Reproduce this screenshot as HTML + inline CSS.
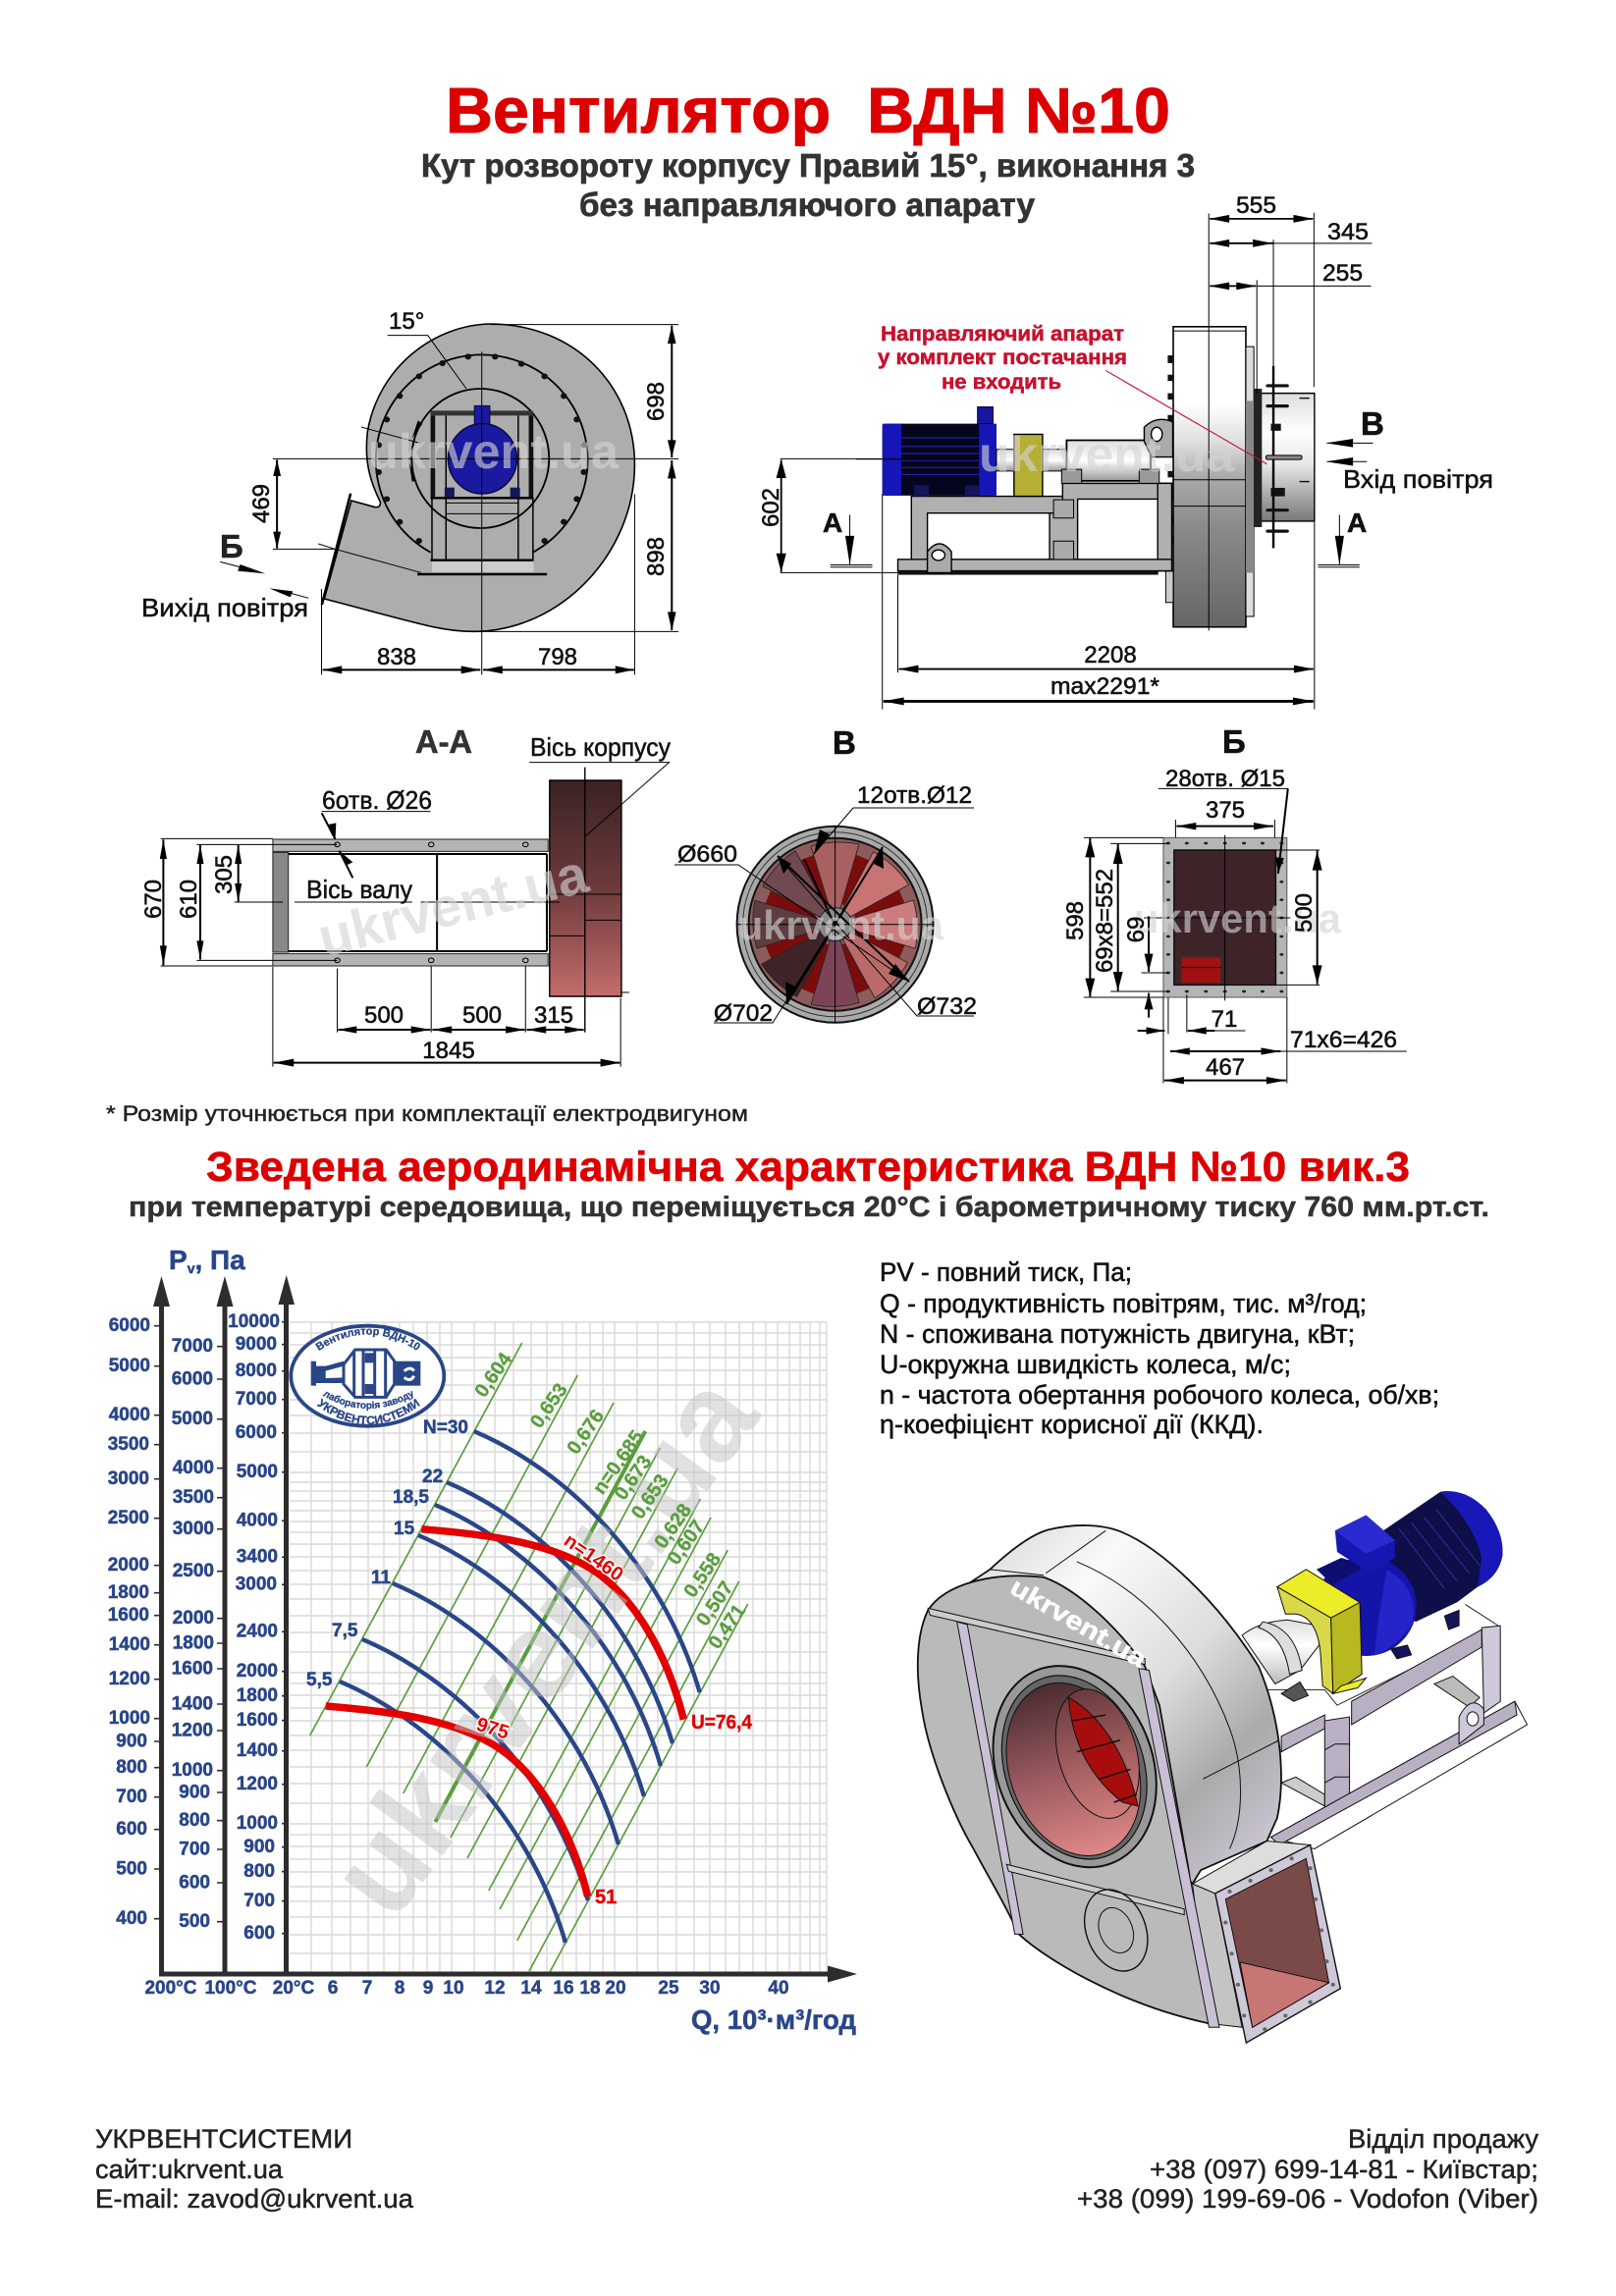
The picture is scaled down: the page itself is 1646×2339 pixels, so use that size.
<!DOCTYPE html>
<html><head><meta charset="utf-8"><title>Вентилятор ВДН №10</title>
<style>
html,body{margin:0;padding:0;background:#fff}
svg{display:block}
svg *{vector-effect:non-scaling-stroke}
text{font-family:"Liberation Sans","Noto Sans CJK SC",sans-serif}
.d{font-size:24px;fill:#111;stroke:#111;stroke-width:.55}
.dm{text-anchor:middle}
.b{font-weight:bold}
.l{font-size:26px;fill:#111;stroke:#111;stroke-width:.5}
.wm{font-weight:bold;fill:#d4d4d4;opacity:.62}
.ax{font-size:19px;font-weight:bold;fill:#2a4689;text-anchor:end;stroke:#2a4689;stroke-width:.5}
.xl{font-size:19px;font-weight:bold;fill:#2a4689;text-anchor:middle;stroke:#2a4689;stroke-width:.5}
.n{font-size:19px;font-weight:bold;fill:#2a4689;stroke:#2a4689;stroke-width:.5}
.g{font-size:20px;font-weight:bold;fill:#5a9e3e;text-anchor:middle;stroke:#5a9e3e;stroke-width:.3}
.r{font-size:20px;font-weight:bold;fill:#e20000}
.ln{fill:none;stroke:#000;stroke-width:1}
.th{fill:none;stroke:#000;stroke-width:2}
.ah{fill:#000;stroke:none}
.bl{fill:none;stroke:#2a4689;stroke-width:4.4}
.rd{fill:none;stroke:#e20000;stroke-width:7.5}
.gr{fill:none;stroke:#5a9e3e;stroke-width:1.7}
</style></head><body>
<svg xmlns="http://www.w3.org/2000/svg" width="1646" height="2339" viewBox="0 0 1646 2339">
<defs>
<linearGradient id="hg" x1="0" y1="0" x2="0" y2="1"><stop offset="0" stop-color="#fff"/><stop offset=".26" stop-color="#fff"/><stop offset=".39" stop-color="#ddd"/><stop offset=".5" stop-color="#aaa"/><stop offset=".67" stop-color="#8a8a8a"/><stop offset="1" stop-color="#666"/></linearGradient>
<linearGradient id="ig" x1="0" y1="0" x2="0" y2="1"><stop offset="0" stop-color="#ddd"/><stop offset=".3" stop-color="#fff"/><stop offset=".55" stop-color="#e8e8e8"/><stop offset="1" stop-color="#777"/></linearGradient>
<linearGradient id="sg" x1="0" y1="0" x2="0" y2="1"><stop offset="0" stop-color="#ddd"/><stop offset=".5" stop-color="#fff"/><stop offset="1" stop-color="#999"/></linearGradient>
<linearGradient id="rg" x1="0" y1="0" x2="0" y2="1"><stop offset="0" stop-color="#3a2222"/><stop offset=".5" stop-color="#6e3a3c"/><stop offset="1" stop-color="#c46c6c"/></linearGradient>
<linearGradient id="rim" x1="0" y1="0" x2="1" y2="1"><stop offset="0" stop-color="#ccc"/><stop offset=".3" stop-color="#fafafa"/><stop offset=".55" stop-color="#ddd"/><stop offset=".75" stop-color="#aaa"/><stop offset="1" stop-color="#d8d0e4"/></linearGradient>
<linearGradient id="inl" x1="0" y1="0" x2="0" y2="1"><stop offset="0" stop-color="#4a2c30"/><stop offset=".5" stop-color="#9a5a60"/><stop offset="1" stop-color="#e08888"/></linearGradient>
<linearGradient id="inl2" x1="0" y1="0" x2="0" y2="1"><stop offset="0" stop-color="#6a3a3e"/><stop offset="1" stop-color="#d07c7c"/></linearGradient>
<linearGradient id="shf" x1="0" y1="0" x2="0" y2="1"><stop offset="0" stop-color="#ddd"/><stop offset=".4" stop-color="#fff"/><stop offset="1" stop-color="#bbb"/></linearGradient>
</defs>
<rect width="1646" height="2339" fill="#fff"/>

<!-- Titles -->
<text x="454" y="135" font-size="65" font-weight="bold" fill="#dc0000" stroke="#dc0000" stroke-width="1" textLength="738" lengthAdjust="spacingAndGlyphs" xml:space="preserve">Вентилятор  ВДН №10</text>
<text x="429" y="180" font-size="33" font-weight="bold" fill="#333" stroke="#333" stroke-width=".7" textLength="788" lengthAdjust="spacingAndGlyphs">Кут розвороту корпусу Правий 15°, виконання 3</text>
<text x="590" y="220" font-size="33" font-weight="bold" fill="#333" stroke="#333" stroke-width=".7" textLength="464" lengthAdjust="spacingAndGlyphs">без направляючого апарату</text>

<!-- Front view (zoom1 coords) -->
<g transform="translate(200,280) scale(.35714,.33333)">
<path d="M442 690L510 710Q525 712 525 695C490 620 480 560 488 480C520 280 680 152 840 150C1080 152 1250 340 1250 580C1250 850 1040 1090 790 1090C700 1090 650 1070 365 990Z" fill="#adadad" stroke="#000" stroke-width="1.6"/>
<path d="M440 668L358 1008" class="th" style="stroke-width:2.6"/>
<path d="M668 848A302 322 0 1 1 960 848" class="th" style="stroke-width:1.8"/>
<g fill="#111"><circle cx="775" cy="250" r="9"/><circle cx="852" cy="250" r="9"/><circle cx="927" cy="272" r="9"/><circle cx="993" cy="310" r="9"/><circle cx="1048" cy="370" r="9"/><circle cx="1085" cy="442" r="9"/><circle cx="1105" cy="520" r="9"/><circle cx="1105" cy="603" r="9"/><circle cx="1085" cy="685" r="9"/><circle cx="1048" cy="755" r="9"/><circle cx="993" cy="813" r="9"/><circle cx="702" cy="270" r="9"/><circle cx="635" cy="310" r="9"/><circle cx="580" cy="370" r="9"/><circle cx="543" cy="442" r="9"/><circle cx="520" cy="520" r="9"/><circle cx="520" cy="603" r="9"/><circle cx="543" cy="685" r="9"/><circle cx="580" cy="755" r="9"/><circle cx="635" cy="813" r="9"/></g>
<ellipse cx="810" cy="561" rx="196" ry="213" fill="none" stroke="#000" stroke-width="1.8"/>
<rect x="672" y="875" width="290" height="33" fill="#ccc"/>
<path d="M630 915H1000" class="th" style="stroke-width:2.6"/>
<path d="M668 872H960" class="th" style="stroke-width:2.4"/>
<path d="M668 415H960V430H668Z" fill="#333"/>
<rect x="668" y="430" width="13" height="250" fill="#111"/><rect x="948" y="430" width="13" height="250" fill="#111"/>
<path d="M712 430V870M918 430V870M672 680V875M960 680V875" class="th" style="stroke-width:1.5"/>
<path d="M668 682H960" class="th" style="stroke-width:2.4"/>
<path d="M712 697H918M712 730H918" class="th" style="stroke-width:1"/>
<rect x="793" y="400" width="44" height="56" fill="#1a1aa0" stroke="#0a0a40"/>
<ellipse cx="816" cy="562" rx="98" ry="107" fill="#1a1aa0" stroke="#0a0a40" stroke-width="1.5"/>
<rect x="708" y="650" width="28" height="30" fill="#16165a"/><rect x="895" y="650" width="28" height="30" fill="#16165a"/>
<path class="ah" d="M615 500L632 445L645 455ZM607 575L628 630L615 632Z"/>
<path class="ln" d="M218 562H1375M840 152H1375M790 1090H1375M814 235V1222M218 838H400M545 185H660L770 348M470 465L640 515M348 822L395 838L640 910M357 960V1222M1250 670V1222"/>
<path class="th" d="M1356 155V558M1356 567V1086M230 565V836M360 1207H810M818 1207H1248"/>
<path class="ah" d="M1356 155L1344 210H1368ZM1356 558L1344 505H1368ZM1356 567L1344 622H1368ZM1356 1088L1344 1030H1368ZM230 565L219 615H241ZM230 836L219 785H241ZM360 1207L415 1195V1219ZM810 1207L755 1195V1219ZM818 1207L873 1195V1219ZM1248 1207L1195 1195V1219Z"/>
<path class="ln" d="M68 877L150 900M320 988L245 966"/>
<path class="ah" d="M197 913L125 885L118 905ZM208 958L275 967L268 985Z"/>
</g>
<text class="wm" x="375" y="477" font-size="50" textLength="255" lengthAdjust="spacingAndGlyphs">ukrvent.ua</text>
<text class="d" x="396" y="335" font-size="24">15°</text>
<text class="d dm" x="404" y="677">838</text><text class="d dm" x="568" y="677">798</text>
<text class="d dm" transform="translate(676,409) rotate(-90)">698</text>
<text class="d dm" transform="translate(676,567) rotate(-90)">898</text>
<text class="d dm" transform="translate(274,513) rotate(-90)">469</text>
<text x="224" y="568" font-size="33" font-weight="bold" fill="#222" stroke="#222" stroke-width=".6">Б</text>
<text class="l" x="144" y="628" textLength="170" lengthAdjust="spacingAndGlyphs">Вихід повітря</text>

<!-- Side view (zoom2 coords) -->
<g transform="translate(760,180) scale(.51,.357)">
<rect x="853" y="428" width="145" height="857" fill="url(#hg)" stroke="#000" stroke-width="1.6"/>
<path d="M853 428H998M853 440H998M853 865H998M853 940H998" class="ln"/>
<rect x="998" y="485" width="16" height="770" fill="#ddd" stroke="#000"/>
<rect x="998" y="640" width="16" height="490" fill="#888"/>
<rect x="1020" y="618" width="115" height="365" fill="url(#ig)" stroke="#000" stroke-width="1.4"/>
<rect x="1014" y="605" width="16" height="395" fill="#222"/>
<path d="M1053 540V1060" class="th" style="stroke-width:2.4"/>
<g fill="#111"><rect x="1038" y="592" width="46" height="9" rx="4"/><rect x="1038" y="650" width="46" height="9" rx="4"/><rect x="1038" y="795" width="72" height="12" rx="4" fill="#888" stroke="#000"/><rect x="1038" y="947" width="46" height="9" rx="4"/><rect x="1038" y="1007" width="46" height="9" rx="4"/><rect x="1048" y="705" width="20" height="20"/><rect x="1048" y="888" width="28" height="24"/><rect x="1105" y="630" width="20" height="4"/><rect x="1105" y="868" width="20" height="4"/></g>
<g fill="#111"><rect x="842" y="510" width="11" height="22"/><rect x="842" y="565" width="11" height="18"/><rect x="842" y="618" width="11" height="18"/><rect x="842" y="680" width="11" height="20"/><rect x="842" y="840" width="11" height="18"/><rect x="842" y="905" width="11" height="20"/><rect x="842" y="970" width="11" height="24"/><rect x="842" y="1025" width="11" height="22"/></g>
<rect x="838" y="1125" width="15" height="90" fill="#ccc" stroke="#000"/>
<rect x="303" y="1092" width="547" height="33" fill="#b0b0b0" stroke="#000" stroke-width="1.4"/>
<rect x="303" y="1125" width="520" height="11" fill="#111"/>
<path d="M330 912H655V960H362V1092H330Z" fill="#b0b0b0" stroke="#000" stroke-width="1.4"/>
<path d="M632 875H850V920H662V1092H606V960H632Z" fill="#b0b0b0" stroke="#000" stroke-width="1.4"/>
<path d="M822 875V1092H850V875Z" fill="#b0b0b0" stroke="#000" stroke-width="1.4"/>
<rect x="614" y="922" width="40" height="52" fill="#aaa" stroke="#000"/><rect x="614" y="1040" width="40" height="52" fill="#aaa" stroke="#000"/>
<path d="M362 1130V1070Q386 1025 410 1070V1130Z" fill="#aaa" stroke="#000" stroke-width="1.4"/><ellipse cx="384" cy="1080" rx="13" ry="15" fill="#fff" stroke="#000" stroke-width="1.4"/>
<rect x="272" y="705" width="228" height="205" rx="8" fill="#05051e"/>
<rect x="272" y="705" width="38" height="205" fill="#1616b8"/>
<rect x="465" y="705" width="35" height="205" fill="#1616b8"/>
<rect x="462" y="657" width="31" height="48" fill="#1616a0" stroke="#08082c"/>
<path d="M310 745H465M310 770H465M310 790H465M310 810H465M310 830H465M310 850H465" stroke="#2020a0" stroke-width="1.2" fill="none"/>
<rect x="335" y="880" width="30" height="32" fill="#14145a"/><rect x="437" y="880" width="30" height="32" fill="#14145a"/>
<rect x="500" y="778" width="140" height="62" fill="url(#sg)" stroke="#000"/>
<rect x="535" y="735" width="57" height="177" fill="#b5b035" stroke="#000" stroke-width="1.4"/>
<rect x="640" y="752" width="168" height="116" fill="url(#sg)" stroke="#000" stroke-width="1.8"/>
<rect x="630" y="835" width="40" height="40" fill="#999" stroke="#000"/><rect x="785" y="835" width="40" height="40" fill="#999" stroke="#000"/>
<path d="M795 755V715Q820 680 852 700V800H810Z" fill="#aaa" stroke="#000" stroke-width="1.4"/><ellipse cx="820" cy="735" rx="11" ry="20" fill="#fff" stroke="#000" stroke-width="1.4"/>
<path class="ln" d="M924 105V1295M1134 103V600M1053 180V540M1020 295V620M1135 985V1520M303 1135V1415M272 905V1520M68 805H270M220 806H460M68 1130H303M1053 190H1250M1020 312H1248"/>
<path class="th" d="M926 120H1132M926 190H1052M926 312H1018M70 808V1128M305 1405H1133" style="stroke-width:1.8"/>
<path class="th" d="M274 1497H1133" style="stroke-width:2.8"/>
<path class="ah" d="M925 120L965 109V131ZM1133 120L1093 109V131ZM925 190L965 179V201ZM1052 190L1012 179V201ZM925 312L965 301V323ZM1019 312L979 301V323ZM70 806L60 860H80ZM70 1128L60 1075H80ZM304 1405L344 1394V1416ZM1134 1405L1094 1394V1416ZM273 1497L315 1486V1508ZM1134 1497L1092 1486V1508Z"/>
<path stroke="#c8102e" stroke-width="1.1" fill="none" d="M718 553L1040 820"/>
<path class="ln" d="M207 965V1108M168 1108H252M168 1114H252M1185 965V1108M1142 1108H1225M1142 1114H1225M1160 760H1252M1160 813H1240" />
<path class="ah" d="M207 1108L198 1025H216ZM1185 1108L1176 1025H1194ZM1158 760L1212 748V772ZM1158 813L1212 801V825Z"/>
</g>
<text class="wm" x="997" y="480" font-size="50" textLength="260" lengthAdjust="spacingAndGlyphs">ukrvent.ua</text>
<text class="d" x="1259" y="217" textLength="41" lengthAdjust="spacingAndGlyphs">555</text>
<text class="d" x="1352" y="244" textLength="42" lengthAdjust="spacingAndGlyphs">345</text>
<text class="d" x="1347" y="286" textLength="41" lengthAdjust="spacingAndGlyphs">255</text>
<g font-size="21" font-weight="bold" fill="#c8102e" stroke="#c8102e" stroke-width=".5">
<text x="897" y="347" textLength="248" lengthAdjust="spacingAndGlyphs">Направляючий апарат</text>
<text x="894" y="371" textLength="254" lengthAdjust="spacingAndGlyphs">у комплект постачання</text>
<text x="959" y="396" textLength="122" lengthAdjust="spacingAndGlyphs">не входить</text>
</g>
<text x="1386" y="443" font-size="33" font-weight="bold" fill="#111" stroke="#111" stroke-width=".6">В</text>
<text class="l" x="1368" y="497" textLength="153" lengthAdjust="spacingAndGlyphs">Вхід повітря</text>
<text x="838" y="542" font-size="28" font-weight="bold" fill="#111" stroke="#111" stroke-width=".6">А</text>
<text x="1372" y="542" font-size="28" font-weight="bold" fill="#111" stroke="#111" stroke-width=".6">А</text>
<text class="d dm" transform="translate(793,517) rotate(-90)">602</text>
<text class="d dm" x="1131" y="675">2208</text>
<text class="d" x="1070" y="707" textLength="111" lengthAdjust="spacingAndGlyphs">max2291*</text>

<!-- Section A-A (zoom3 coords) -->
<g transform="translate(130,730) scale(.3954,.33333)">
<rect x="1087" y="195" width="185" height="660" fill="url(#rg)" stroke="#000" stroke-width="1.4"/>
<path class="ln" d="M1087 543H1272M1180 622H1270M1087 670H1178M1270 843H1292"/>
<path class="th" style="stroke-width:1.4" d="M1178 155V965"/>
<rect x="374" y="375" width="709" height="37" fill="#b4b4b4" stroke="#222"/>
<rect x="374" y="725" width="709" height="37" fill="#b4b4b4" stroke="#222"/>
<rect x="374" y="415" width="40" height="305" fill="#888" stroke="#222"/>
<path class="th" style="stroke-width:2" d="M414 420H1080M414 717H1080M797 420V717M1080 420V717"/>
<g fill="none" stroke="#000"><circle cx="540" cy="391" r="7"/><circle cx="782" cy="391" r="7"/><circle cx="1025" cy="391" r="7"/><circle cx="540" cy="745" r="7"/><circle cx="782" cy="745" r="7"/><circle cx="1025" cy="745" r="7"/></g>
<path class="ln" d="M85 373H374M85 762H374M178 391H540M178 745H540M275 567H400M430 567H733M755 567H1113M374 765V1070M1270 860V1070M540 770V965M782 762V965M1025 762V965M1035 140H1395L1180 365M500 290H780"/>
<path class="th" d="M92 376V760M187 393V743M285 393V565M542 957H780M785 957H1023M1028 957H1175M376 1058H1268"/>
<path class="th" d="M500 295L535 375M580 493L545 410"/>
<path class="ah" d="M92 375L83 435H101ZM92 760L83 700H101ZM187 392L178 450H196ZM187 743L178 685H196ZM285 392L276 450H294ZM285 566L276 510H294ZM541 957L590 946V968ZM780 957L730 946V968ZM785 957L835 946V968ZM1024 957L974 946V968ZM1028 957L1078 946V968ZM1176 957L1126 946V968ZM376 1058L428 1046V1070ZM1270 1058L1218 1046V1070ZM535 375L517 330L537 325ZM545 410L563 455L580 445Z"/>
</g>
<text class="wm" x="330" y="975" font-size="56" transform="rotate(-14 330 975)" textLength="280" lengthAdjust="spacingAndGlyphs">ukrvent.ua</text>
<text x="423" y="767" font-size="33" font-weight="bold" fill="#333" stroke="#333" stroke-width=".6" textLength="58" lengthAdjust="spacingAndGlyphs">А-А</text>
<text class="l" x="540" y="770" textLength="143" lengthAdjust="spacingAndGlyphs">Вісь корпусу</text>
<text class="l" x="328" y="824" textLength="112" lengthAdjust="spacingAndGlyphs">6отв. Ø26</text>
<text class="l" x="312" y="915" textLength="108" lengthAdjust="spacingAndGlyphs">Вісь валу</text>
<text class="d dm" transform="translate(164,916) rotate(-90)">670</text>
<text class="d dm" transform="translate(200,916) rotate(-90)">610</text>
<text class="d dm" transform="translate(236,891) rotate(-90)">305</text>
<text class="d dm" x="391" y="1042">500</text><text class="d dm" x="491" y="1042">500</text><text class="d dm" x="564" y="1042">315</text>
<text class="d dm" x="457" y="1078">1845</text>

<!-- Section В -->
<g>
<circle cx="850.6" cy="941.7" r="100" fill="#aaa" stroke="#111" stroke-width="2"/>
<circle cx="850.6" cy="941.7" r="94" fill="none" stroke="#333"/>
<circle cx="850.6" cy="941.7" r="88" fill="#8c5c5c" stroke="#111" stroke-width="2"/>
<g fill="#7b0c0c">
<path d="M848 920L838 868H863L853 920Z" transform="rotate(22.5 850.6 941.7)"/>
<path d="M848 920L838 868H863L853 920Z" transform="rotate(67.5 850.6 941.7)"/>
<path d="M848 920L838 868H863L853 920Z" transform="rotate(112.5 850.6 941.7)"/>
<path d="M848 920L838 868H863L853 920Z" transform="rotate(157.5 850.6 941.7)"/>
<path d="M848 920L838 868H863L853 920Z" transform="rotate(202.5 850.6 941.7)"/>
<path d="M848 920L838 868H863L853 920Z" transform="rotate(247.5 850.6 941.7)"/>
<path d="M848 920L838 868H863L853 920Z" transform="rotate(292.5 850.6 941.7)"/>
<path d="M848 920L838 868H863L853 920Z" transform="rotate(337.5 850.6 941.7)"/>
</g>
<g stroke="#222" stroke-width=".8">
<path fill="#a86060" d="M845 925L826 862Q850 855 875 860L856 925Z"/>
<path fill="#c97474" d="M845 925L826 862Q850 855 875 860L856 925Z" transform="rotate(45 850.6 941.7)"/>
<path fill="#cc7c7c" d="M845 925L826 862Q850 855 875 860L856 925Z" transform="rotate(90 850.6 941.7)"/>
<path fill="#bb6a6a" d="M845 925L826 862Q850 855 875 860L856 925Z" transform="rotate(135 850.6 941.7)"/>
<path fill="#7c4456" d="M845 925L826 862Q850 855 875 860L856 925Z" transform="rotate(180 850.6 941.7)"/>
<path fill="#3e2428" d="M845 925L826 862Q850 855 875 860L856 925Z" transform="rotate(225 850.6 941.7)"/>
<path fill="#5e3c40" d="M845 925L826 862Q850 855 875 860L856 925Z" transform="rotate(270 850.6 941.7)"/>
<path fill="#704a50" d="M845 925L826 862Q850 855 875 860L856 925Z" transform="rotate(315 850.6 941.7)"/>
</g>
<circle cx="850.6" cy="941.7" r="17" fill="#8a8a8a" stroke="#222"/>
<path class="ln" d="M850.6 842V1042M751 941.7H950"/>
<path class="ln" d="M687 881H752L926 1000M727 1042H787L899 863M934 1035L992 1035M934 1035L792 872M869 823H992M869 823L829 870"/>
<path class="th" d="M792 872L926 1000M899 863L801 1023M819 875L850 942"/>
<path class="ah" d="M829 870L835 845L845 850ZM792 872L806 880L798 890ZM926 1000L912 982L905 992ZM899 863L890 880L900 885ZM801 1023L810 1005L800 1000Z"/>
</g>
<text class="wm" x="752" y="957" font-size="42" textLength="209" lengthAdjust="spacingAndGlyphs">ukrvent.ua</text>
<text x="848" y="768" font-size="33" font-weight="bold" fill="#111" stroke="#111" stroke-width=".6">В</text>
<text class="d" x="873" y="818" textLength="117" lengthAdjust="spacingAndGlyphs">12отв.Ø12</text>
<text class="d" x="690" y="878" textLength="61" lengthAdjust="spacingAndGlyphs">Ø660</text>
<text class="d" x="727" y="1040" textLength="60" lengthAdjust="spacingAndGlyphs">Ø702</text>
<text class="d" x="934" y="1033" textLength="61" lengthAdjust="spacingAndGlyphs">Ø732</text>

<!-- Section Б (zoom4 coords) -->
<g transform="translate(680,730) scale(.4975,.33333)">
<rect x="1015" y="370" width="253" height="488" fill="#b5b5b5" stroke="#555"/>
<rect x="1037" y="408" width="208" height="412" fill="#3e2428" stroke="#111" stroke-width="1.6"/>
<rect x="1052" y="735" width="81" height="80" fill="#a01010" stroke="#333"/>
<path class="ln" d="M1052 767H1133"/>
<g fill="#222"><circle cx="1025" cy="387" r="4"/><circle cx="1063" cy="387" r="4"/><circle cx="1102" cy="387" r="4"/><circle cx="1141" cy="387" r="4"/><circle cx="1180" cy="387" r="4"/><circle cx="1218" cy="387" r="4"/><circle cx="1257" cy="387" r="4"/><circle cx="1025" cy="840" r="4"/><circle cx="1063" cy="840" r="4"/><circle cx="1102" cy="840" r="4"/><circle cx="1141" cy="840" r="4"/><circle cx="1180" cy="840" r="4"/><circle cx="1218" cy="840" r="4"/><circle cx="1257" cy="840" r="4"/><circle cx="1025" cy="447" r="4"/><circle cx="1025" cy="505" r="4"/><circle cx="1025" cy="560" r="4"/><circle cx="1025" cy="615" r="4"/><circle cx="1025" cy="672" r="4"/><circle cx="1025" cy="727" r="4"/><circle cx="1025" cy="783" r="4"/><circle cx="1257" cy="447" r="4"/><circle cx="1257" cy="505" r="4"/><circle cx="1257" cy="560" r="4"/><circle cx="1257" cy="615" r="4"/><circle cx="1257" cy="672" r="4"/><circle cx="1257" cy="727" r="4"/><circle cx="1257" cy="783" r="4"/></g>
<path class="ln" d="M1141 362V868M975 615H1275M1040 315V370M1243 315V370M852 370H1015M852 858H1015M907 388H1025M907 840H1025M970 783H1025M1245 408H1335M1245 820H1335M1025 858V970M1063 850V965M1015 858V1120M1268 858V1120M1005 220H1270M1250 1023H1513M1065 960H1183"/>
<path class="th" d="M1042 335H1240M865 372V856M922 390V838M985 610V780M985 845V920M1330 410V818M962 960H1018M1065 960H1120M1029 1023H1255M1017 1112H1266M1270 220L1250 480"/>
<path class="ah" d="M1042 335L1082 324V346ZM1240 335L1200 324V346ZM865 372L855 430H875ZM865 856L855 800H875ZM922 390L912 450H932ZM922 838L912 780H932ZM985 780L976 725H994ZM985 845L976 895H994ZM1330 410L1320 470H1340ZM1330 818L1320 760H1340ZM1018 960L980 949V971ZM1065 960L1103 949V971ZM1029 1023L1069 1012V1034ZM1255 1023L1215 1012V1034ZM1017 1112L1057 1101V1123ZM1266 1112L1226 1101V1123ZM1250 480L1245 430L1262 432Z"/>
</g>
<text class="wm" x="1155" y="950" font-size="42" textLength="211" lengthAdjust="spacingAndGlyphs">ukrvent.ua</text>
<text x="1245" y="767" font-size="33" font-weight="bold" fill="#111" stroke="#111" stroke-width=".6">Б</text>
<text class="d" x="1187" y="801" textLength="122" lengthAdjust="spacingAndGlyphs">28отв. Ø15</text>
<text class="d dm" x="1248" y="833">375</text>
<text class="d dm" transform="translate(1103,938) rotate(-90)">598</text>
<text class="d dm" transform="translate(1133,938) rotate(-90)">69x8=552</text>
<text class="d dm" transform="translate(1165,947) rotate(-90)">69</text>
<text class="d dm" transform="translate(1336,930) rotate(-90)">500</text>
<text class="d dm" x="1247" y="1046">71</text>
<text class="d" x="1314" y="1067" textLength="109" lengthAdjust="spacingAndGlyphs">71x6=426</text>
<text class="d dm" x="1248" y="1095">467</text>

<text x="108" y="1142" font-size="22" fill="#222" stroke="#222" stroke-width=".45" textLength="654" lengthAdjust="spacingAndGlyphs">* Розмір уточнюється при комплектації електродвигуном</text>
<text x="210" y="1203" font-size="43" font-weight="bold" fill="#dc0000" stroke="#dc0000" stroke-width=".6" textLength="1226" lengthAdjust="spacingAndGlyphs">Зведена аеродинамічна характеристика ВДН №10 вик.3</text>
<text x="131" y="1239" font-size="29" font-weight="bold" fill="#333" stroke="#333" stroke-width=".5" textLength="1386" lengthAdjust="spacingAndGlyphs">при температурі середовища, що переміщується 20°С і барометричному тиску 760 мм.рт.ст.</text>

<!-- Legend -->
<g font-size="27" fill="#111" stroke="#111" stroke-width=".55">
<text x="896" y="1305" textLength="257" lengthAdjust="spacingAndGlyphs">PV - повний тиск, Па;</text>
<text x="896" y="1337" textLength="496" lengthAdjust="spacingAndGlyphs">Q - продуктивність повітрям, тис. м³/год;</text>
<text x="896" y="1368" textLength="484" lengthAdjust="spacingAndGlyphs">N - споживана потужність двигуна, кВт;</text>
<text x="896" y="1399" textLength="419" lengthAdjust="spacingAndGlyphs">U-окружна швидкість колеса, м/с;</text>
<text x="896" y="1430" textLength="570" lengthAdjust="spacingAndGlyphs">n - частота обертання робочого колеса, об/хв;</text>
<text x="896" y="1460" textLength="391" lengthAdjust="spacingAndGlyphs">η-коефіцієнт корисної дії (ККД).</text>
</g>

<!-- Chart grid -->
<path fill="none" stroke="#d9d9d9" stroke-width="1.4" d="M317 1347V2009M338 1347V2009M357 1347V2009M375 1347V2009M391 1347V2009M407 1347V2009M421 1347V2009M435 1347V2009M448 1347V2009M460 1347V2009M483 1347V2009M504 1347V2009M523 1347V2009M541 1347V2009M557 1347V2009M573 1347V2009M587 1347V2009M601 1347V2009M614 1347V2009M626 1347V2009M649 1347V2009M670 1347V2009M689 1347V2009M707 1347V2009M723 1347V2009M739 1347V2009M753 1347V2009M767 1347V2009M780 1347V2009M792 1347V2009M804 1347V2009M815 1347V2009M825 1347V2009M835 1347V2009M842 1347V2009
M295 1347H842M295 1358H842M295 1370H842M295 1383H842M295 1396H842M295 1411H842M295 1426H842M295 1442H842M295 1460H842M295 1479H842M295 1500H842M295 1510H842M295 1519H842M295 1529H842M295 1539H842M295 1550H842M295 1561H842M295 1573H842M295 1586H842M295 1600H842M295 1614H842M295 1629H842M295 1646H842M295 1663H842M295 1683H842M295 1704H842M295 1715H842M295 1727H842M295 1740H842M295 1753H842M295 1768H842M295 1783H842M295 1800H842M295 1817H842M295 1837H842M295 1858H842M295 1869H842M295 1881H842M295 1894H842M295 1907H842M295 1922H842M295 1937H842M295 1953H842M295 1971H842M295 1990H842"/>

<!-- Green lines -->
<g class="gr">
<path d="M531.7 1368L315.7 1768M588.3 1401L373.3 1800M625 1429L410.7 1827M672.3 1475L459 1872M690 1496L476 1893M713.3 1527L497.7 1926M724 1546L509 1945M741.3 1579L526.7 1977M752.7 1611L539 2008M761.7 1634L560 2009"/>
<path d="M657.3 1458L443.3 1856" style="stroke-width:4"/>
</g>
<!-- Blue curves -->
<g class="bl">
<path d="M0 0C90 38 190 130 230 266" transform="translate(482.7,1458)"/>
<path d="M0 0C90 38 190 130 230 266" transform="translate(455,1510)"/>
<path d="M0 0C90 38 190 130 230 266" transform="translate(443,1533)"/>
<path d="M0 0C90 38 190 130 230 266" transform="translate(426,1564)"/>
<path d="M0 0C90 38 190 130 230 266" transform="translate(400,1613)"/>
<path d="M0 0C90 38 190 130 230 266" transform="translate(369,1670)"/>
<path d="M0 0C90 38 190 130 230 266" transform="translate(346,1713)"/>
</g>
<!-- Red curves -->
<g class="rd">
<path d="M0 0C60 5 125 12 170.7 39.3C215 66 250 125 267 194" transform="translate(429.3,1557.7)"/>
<path d="M0 0C60 5 125 12 170.7 39.3C215 66 250 125 267 194" transform="translate(331.7,1738)"/>
</g>
<!-- Watermark over chart -->
<text x="400" y="1960" font-size="127" font-weight="bold" fill="#c4c4c4" opacity=".5" transform="rotate(-54 400 1960)" textLength="640" lengthAdjust="spacingAndGlyphs">ukrvent.ua</text>

<!-- Axes -->
<g fill="#2d2d2d">
<rect x="162" y="1325" width="5" height="686"/><rect x="226.5" y="1325" width="5" height="686"/><rect x="289" y="1325" width="5" height="686"/>
<rect x="162" y="2008.5" width="685" height="5"/>
<path d="M164.5 1300L156 1331H173ZM229 1300L220.5 1331H237.5ZM291.7 1299L283.5 1329H300ZM873 2011L843 2002.5V2019.5Z"/>
<path d="M157 1350.7h8M157 1391.7h8M157 1441.7h8M157 1471.7h8M157 1506.7h8M157 1546.7h8M157 1594.7h8M157 1622.7h8M157 1645.7h8M157 1675.7h8M157 1710.7h8M157 1750.7h8M157 1774h8M157 1800.7h8M157 1830.7h8M157 1863.7h8M157 1904h8M157 1954.7h8M221 1371.7h8M221 1405h8M221 1445.7h8M221 1495.7h8M221 1525.7h8M221 1557.7h8M221 1600.7h8M221 1648.7h8M221 1674h8M221 1700h8M221 1736h8M221 1763h8M221 1803.7h8M221 1826h8M221 1854.7h8M221 1884h8M221 1918h8M221 1957.7h8M287 1346.7h6M287 1369.7h6M287 1396.7h6M287 1425.7h6M287 1459.7h6M287 1499.7h6M287 1549.3h6M287 1586.3h6M287 1614.3h6M287 1662.3h6M287 1702.7h6M287 1727.7h6M287 1752.7h6M287 1783.7h6M287 1817.7h6M287 1857.7h6M287 1881.7h6M287 1906.7h6M287 1936.7h6M287 1969.7h6" stroke="#2d2d2d" stroke-width="1.6" fill="none"/>
</g>
<!-- Axis labels -->
<g transform="translate(0,-1.5)">
<text class="ax" x="153" y="1357.5">6000</text><text class="ax" x="153" y="1398.5">5000</text><text class="ax" x="153" y="1448.5">4000</text><text class="ax" x="152" y="1478.5">3500</text><text class="ax" x="152" y="1513.5">3000</text><text class="ax" x="152" y="1553.5">2500</text><text class="ax" x="152" y="1601.5">2000</text><text class="ax" x="152" y="1629.5">1800</text><text class="ax" x="152" y="1652.5">1600</text><text class="ax" x="153" y="1682.5">1400</text><text class="ax" x="153" y="1717.5">1200</text><text class="ax" x="153" y="1757.5">1000</text><text class="ax" x="150" y="1781">900</text><text class="ax" x="150" y="1807.5">800</text><text class="ax" x="150" y="1837.5">700</text><text class="ax" x="150" y="1870.5">600</text><text class="ax" x="150" y="1911">500</text><text class="ax" x="150" y="1961.5">400</text>
<text class="ax" x="217" y="1378.5">7000</text><text class="ax" x="217" y="1412">6000</text><text class="ax" x="217" y="1452.5">5000</text><text class="ax" x="218" y="1502.5">4000</text><text class="ax" x="218" y="1532.5">3500</text><text class="ax" x="218" y="1564.5">3000</text><text class="ax" x="218" y="1607.5">2500</text><text class="ax" x="218" y="1655.5">2000</text><text class="ax" x="218" y="1681">1800</text><text class="ax" x="217" y="1707">1600</text><text class="ax" x="217" y="1743">1400</text><text class="ax" x="217" y="1770">1200</text><text class="ax" x="217" y="1810.5">1000</text><text class="ax" x="214" y="1833">900</text><text class="ax" x="214" y="1861.5">800</text><text class="ax" x="214" y="1891">700</text><text class="ax" x="214" y="1925">600</text><text class="ax" x="214" y="1964.5">500</text>
<text class="ax" x="285" y="1353.5">10000</text><text class="ax" x="282" y="1376.5">9000</text><text class="ax" x="282" y="1403.5">8000</text><text class="ax" x="282" y="1432.5">7000</text><text class="ax" x="282" y="1466.5">6000</text><text class="ax" x="283" y="1506.5">5000</text><text class="ax" x="283" y="1556">4000</text><text class="ax" x="283" y="1593">3400</text><text class="ax" x="282" y="1621">3000</text><text class="ax" x="283" y="1669">2400</text><text class="ax" x="283" y="1709.5">2000</text><text class="ax" x="283" y="1734.5">1800</text><text class="ax" x="283" y="1759.5">1600</text><text class="ax" x="283" y="1790.5">1400</text><text class="ax" x="283" y="1824.5">1200</text><text class="ax" x="283" y="1864.5">1000</text><text class="ax" x="280" y="1888.5">900</text><text class="ax" x="280" y="1913.5">800</text><text class="ax" x="280" y="1943.5">700</text><text class="ax" x="280" y="1976.5">600</text>
</g>
<text class="xl" x="174" y="2031">200°C</text><text class="xl" x="235" y="2031">100°C</text><text class="xl" x="299" y="2031">20°C</text><text class="xl" x="339" y="2031">6</text><text class="xl" x="374" y="2031">7</text><text class="xl" x="407" y="2031">8</text><text class="xl" x="436" y="2031">9</text><text class="xl" x="462" y="2031">10</text><text class="xl" x="504" y="2031">12</text><text class="xl" x="541" y="2031">14</text><text class="xl" x="574" y="2031">16</text><text class="xl" x="601" y="2031">18</text><text class="xl" x="627" y="2031">20</text><text class="xl" x="681" y="2031">25</text><text class="xl" x="723" y="2031">30</text><text class="xl" x="793" y="2031">40</text>
<text x="172" y="1293" font-size="28" font-weight="bold" fill="#2a4689" stroke="#2a4689" stroke-width=".5">P<tspan font-size="14" dy="4">v</tspan><tspan dy="-4">, Па</tspan></text>
<text x="704" y="2067" font-size="28" font-weight="bold" fill="#2a4689" stroke="#2a4689" stroke-width=".5" textLength="168" lengthAdjust="spacingAndGlyphs">Q, 10³·м³/год</text>
<!-- Curve labels -->
<text class="n" x="431" y="1460">N=30</text><text class="n" x="430" y="1510">22</text><text class="n" x="400" y="1531">18,5</text><text class="n" x="401" y="1563">15</text><text class="n" x="378" y="1613">11</text><text class="n" x="338" y="1667">7,5</text><text class="n" x="312" y="1717">5,5</text>
<g class="g">
<text transform="translate(507.7,1404.4) rotate(-55)">0,604</text>
<text transform="translate(564.3,1435.7) rotate(-55)">0,653</text>
<text transform="translate(601.7,1462.4) rotate(-55)">0,676</text>
<text transform="translate(635,1493.4) rotate(-55)">n=0,685</text>
<text transform="translate(650,1509) rotate(-55)">0,673</text>
<text transform="translate(667.3,1528.4) rotate(-55)">0,653</text>
<text transform="translate(690.7,1558.4) rotate(-55)">0,628</text>
<text transform="translate(704,1575) rotate(-55)">0,607</text>
<text transform="translate(720.7,1608.4) rotate(-55)">0,558</text>
<text transform="translate(733.3,1637.4) rotate(-55)">0,507</text>
<text transform="translate(745.7,1660.7) rotate(-55)">0,471</text>
</g>
<text class="r" text-anchor="middle" transform="translate(601,1592) rotate(35)" stroke="#fff" stroke-width="2.6" paint-order="stroke">n=1460</text>
<text class="r" text-anchor="middle" transform="translate(500,1767) rotate(17)" stroke="#fff" stroke-width="2.6" paint-order="stroke">975</text>
<text class="r" x="704" y="1761" stroke="#e20000" stroke-width=".4" textLength="62" lengthAdjust="spacingAndGlyphs">U=76,4</text>
<text class="r" x="606" y="1939" stroke="#e20000" stroke-width=".4">51</text>

<!-- Stamp -->
<ellipse cx="374.3" cy="1401.7" rx="78" ry="51" fill="#fff" stroke="#2a4689" stroke-width="3.8"/>
<g transform="translate(110,1260) scale(.33333)" fill="#2a4689" stroke="none">
<rect x="620" y="380" width="16" height="75"/>
<path d="M636 395H665L720 380V395L665 410V432L720 430V447L665 447H636Z"/>
<path d="M720 390L755 345H850L875 380V450L850 490H755L720 450Z" fill="#fff" stroke="#2a4689" stroke-width="3"/>
<path d="M752 347V488M780 347V488M815 347V488M848 347V488" stroke="#2a4689" stroke-width="3" fill="none"/>
<rect x="785" y="355" width="30" height="30"/><rect x="785" y="450" width="30" height="30"/>
<rect x="875" y="380" width="80" height="75"/>
<path d="M905 410Q925 395 935 410M905 430Q925 445 935 425" stroke="#fff" stroke-width="3" fill="none"/>
</g>
<defs>
<path id="st1" d="M318 1381Q374 1338 432 1381"/>
<path id="st2" d="M326 1420Q374 1450 425 1420"/>
<path id="st3" d="M321 1430Q374 1472 430 1430"/>
</defs>
<text font-size="11" font-weight="bold" fill="#2a4689" stroke="#2a4689" stroke-width=".3"><textPath href="#st1" startOffset="50%" text-anchor="middle">Вентилятор ВДН-10</textPath></text>
<text font-size="10" font-weight="bold" fill="#2a4689" stroke="#2a4689" stroke-width=".3"><textPath href="#st2" startOffset="50%" text-anchor="middle">лабораторія заводу</textPath></text>
<text font-size="12" font-weight="bold" fill="#2a4689" stroke="#2a4689" stroke-width=".3"><textPath href="#st3" startOffset="50%" text-anchor="middle">УКРВЕНТСИСТЕМИ</textPath></text>

<!-- Isometric view (zoom9 coords) -->
<g transform="translate(920,1500) scale(.4209,.3953)" stroke="#111" stroke-width="1">
<!-- frame -->
<path d="M880 560H1020L1050 600L1440 395L1360 340" fill="none" stroke="#222"/>
<path d="M1085 590L1400 405V450L1085 650Z" fill="#b9b0c4"/>
<path d="M915 680L1020 625V660L915 720Z" fill="#b9b0c4"/>
<path d="M1400 400L1445 395V590L1405 620Z" fill="#cfc8d8"/>
<path d="M1285 545L1330 525L1395 580L1370 605Z" fill="#bbb"/>
<path d="M915 800L950 785L1020 830L1020 860Z" fill="#ccc"/>
<path d="M1020 640L1080 630V830L1020 870Z" fill="#b9b0c4"/>
<path d="M1020 715L1045 700H1080M1020 800L1045 785H1080" fill="none"/>
<path d="M890 940L1480 590L1510 650L995 970Z" fill="#fff"/>
<path d="M890 940L1480 590L1485 625L910 960Z" fill="#b9b0c4"/>
<path d="M1345 700V630Q1375 570 1405 610V650Z" fill="#cfc8d8"/><ellipse cx="1378" cy="635" rx="14" ry="18" fill="#fff"/>
<!-- motor -->
<path d="M1300 50Q1360 40 1410 95Q1455 155 1450 215Q1440 270 1390 295L1340 335L1240 385L1150 300L1120 180Z" fill="#0e0e48" stroke="none"/>
<path d="M1230 130L1340 280M1260 115L1370 260M1290 95L1395 240M1200 145L1310 300" stroke="#2a2a90" stroke-width="1.2" fill="none"/>
<path d="M1300 50Q1360 40 1410 95Q1455 155 1450 215Q1440 270 1390 295L1400 220Q1380 130 1300 50Z" fill="#1818b8" stroke="none"/>
<ellipse cx="1120" cy="345" rx="122" ry="128" fill="#1414a8" stroke="none"/>
<path d="M1170 250Q1250 300 1232 390Q1195 450 1140 472L1150 380Z" fill="#2424c8" stroke="none"/>
<path d="M1000 250L1060 220L1120 240L1040 290Z" fill="#0e0e70" stroke="none"/>
<path d="M1045 150L1120 110L1190 175V220L1130 260L1050 205Z" fill="#1616b0" stroke="none"/>
<path d="M1045 150L1120 110L1190 175L1120 210Z" fill="#2a2ad0" stroke="none"/>
<path d="M1180 455L1220 445L1230 470L1195 480Z" fill="#14145a"/><path d="M1310 370L1345 355L1345 395L1320 405Z" fill="#14145a"/>
<!-- shaft + bearing -->
<path d="M820 420Q860 385 930 380L1005 395L1010 440L960 510L900 545Z" fill="url(#shf)"/>
<path d="M870 385Q950 400 965 510L935 520Q920 420 860 400Z" fill="#ddd"/>
<path d="M915 570L960 540L980 575L945 590Z" fill="#555"/>
<!-- yellow guard -->
<path d="M905 295L975 250L1105 335L1035 375Z" fill="#ecec28"/>
<path d="M905 295L1035 375L1040 570L1015 550L1010 470C1005 400 980 360 935 365L925 365Z" fill="#d8d84a"/>
<path d="M1035 375L1105 335L1110 520L1040 570Z" fill="#b8b820"/>
<path d="M1040 570L1060 550L1120 530L1100 555Z" fill="#ecec28"/>
<!-- rim -->
<path d="M60 355L210 250C260 200 310 160 350 148C420 130 480 135 520 150C620 190 760 330 860 500C915 640 925 790 905 890L880 950L720 1025L700 1060L500 800Z" fill="url(#rim)" stroke-width="1.8"/>
<path d="M210 250L340 265M345 260L490 150M420 230C580 300 720 460 790 660C825 760 825 890 790 970M725 790L910 690" fill="none" stroke-width="1"/>
<!-- outlet lower -->
<path d="M700 1060L755 1085L820 1430L740 1420Z" fill="#c4c4c4"/>
<path d="M700 1060L880 950L985 960L755 1085Z" fill="#ddd"/>
<!-- front face -->
<path d="M60 355C100 290 210 255 340 270C420 300 520 400 585 500L620 600L690 1020L740 1420C520 1370 340 1250 280 1190C240 1100 210 1050 170 970C120 880 60 720 45 610C30 520 30 420 60 355Z" fill="#bababa" stroke-width="1.8"/>
<path d="M130 385L155 392L290 1190L270 1190Z" fill="#c9c0d6"/>
<path d="M570 505L595 510L765 1430L740 1430Z" fill="#c9c0d6"/>
<path d="M60 350L585 480L585 495L65 368Z" fill="#ccc"/>
<path d="M250 1010L680 1125V1140L255 1028Z" fill="#ccc"/>
<!-- inlet -->
<ellipse cx="415" cy="758" rx="190" ry="265" transform="rotate(-17 415 758)" fill="#999" stroke-width="2"/>
<ellipse cx="414" cy="760" rx="168" ry="242" transform="rotate(-17 414 760)" fill="#666" stroke-width="1.2"/>
<ellipse cx="412" cy="765" rx="155" ry="228" transform="rotate(-17 412 765)" fill="url(#inl)"/>
<ellipse cx="470" cy="725" rx="95" ry="170" transform="rotate(-14 470 725)" fill="url(#inl2)"/>
<path d="M400 580C470 620 540 720 568 860L530 850C470 800 410 720 400 580Z" fill="#a80d0d"/>
<path d="M410 640L490 625M420 720L525 690M475 790L550 765M510 850L565 830" stroke="#111" stroke-width="1.5" fill="none"/>
<!-- flange circle -->
<ellipse cx="515" cy="1180" rx="72" ry="108" transform="rotate(-18 515 1180)" fill="none" stroke-width="1.4"/>
<ellipse cx="515" cy="1180" rx="40" ry="60" transform="rotate(-18 515 1180)" fill="none" stroke-width="1"/>
<!-- outlet flange -->
<path d="M755 1085L985 960L1058 1330L830 1470Z" fill="#cfc8d8" stroke-width="1.4"/>
<path d="M780 1100L975 995L1030 1315L845 1430Z" fill="#7a4a48"/>
<path d="M815 1262L1030 1315L845 1430Z" fill="#c77673"/>
<g fill="#666" stroke="none"><circle cx="790" cy="1080" r="5"/><circle cx="840" cy="1052" r="5"/><circle cx="890" cy="1025" r="5"/><circle cx="940" cy="995" r="5"/><circle cx="985" cy="1020" r="5"/><circle cx="998" cy="1100" r="5"/><circle cx="1012" cy="1180" r="5"/><circle cx="1025" cy="1260" r="5"/><circle cx="1040" cy="1320" r="5"/><circle cx="985" cy="1365" r="5"/><circle cx="925" cy="1400" r="5"/><circle cx="875" cy="1435" r="5"/><circle cx="825" cy="1400" r="5"/><circle cx="810" cy="1320" r="5"/><circle cx="795" cy="1240" r="5"/><circle cx="780" cy="1160" r="5"/></g>
</g>
<text x="1027" y="1622" font-size="26" font-weight="bold" fill="#fff" stroke="#fff" stroke-width=".5" transform="rotate(30 1027 1622)" textLength="155" lengthAdjust="spacingAndGlyphs">ukrvent.ua</text>

<!-- Footer -->
<g font-size="27" fill="#222" stroke="#222" stroke-width=".45">
<text x="97" y="2188" textLength="262" lengthAdjust="spacingAndGlyphs">УКРВЕНТСИСТЕМИ</text>
<text x="97" y="2219" textLength="191" lengthAdjust="spacingAndGlyphs">сайт:ukrvent.ua</text>
<text x="97" y="2249" textLength="324" lengthAdjust="spacingAndGlyphs">E-mail: zavod@ukrvent.ua</text>
<text x="1373" y="2188" textLength="194" lengthAdjust="spacingAndGlyphs">Відділ продажу</text>
<text x="1171" y="2219" textLength="396" lengthAdjust="spacingAndGlyphs">+38 (097) 699-14-81 - Київстар;</text>
<text x="1097" y="2249" textLength="470" lengthAdjust="spacingAndGlyphs">+38 (099) 199-69-06 - Vodofon (Viber)</text>
</g>
</svg>
</body></html>
